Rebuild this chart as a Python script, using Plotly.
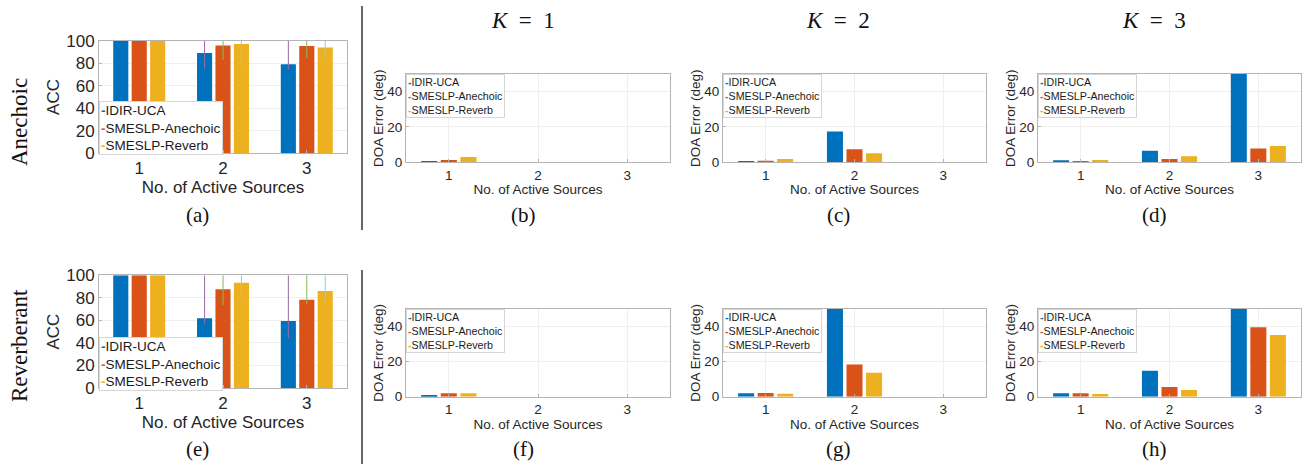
import plotly.graph_objects as go

# ---------------- data ----------------
methods = ["IDIR-UCA", "SMESLP-Anechoic", "SMESLP-Reverb"]
sources = [1, 2, 3]
source_labels = ["1", "2", "3"]
acc_ticks = [0, 20, 40, 60, 80, 100]
doa_ticks = [0, 20, 40]

# ACC, anechoic (a)
acc_an_idir = [100, 89.3, 79.3]
acc_an_sma = [100, 95.9, 95.6]
acc_an_smr = [100, 97.3, 94.1]
acc_an_idir_minus = [0, 13.9, 4.7]
acc_an_sma_minus = [0, 12.5, 11.0]
acc_an_smr_minus = [0, 20.0, 10.7]
acc_an_idir_plus = [0, 10.7, 20.7]
acc_an_sma_plus = [0, 4.1, 4.4]
acc_an_smr_plus = [0, 2.7, 5.9]

# ACC, reverberant (e)
acc_rv_idir = [100, 61.8, 59.5]
acc_rv_sma = [100, 87.6, 78.4]
acc_rv_smr = [100, 93.5, 86.1]
acc_rv_idir_minus = [0, 4.4, 15.5]
acc_rv_sma_minus = [0, 13.9, 4.1]
acc_rv_smr_minus = [0, 13.9, 9.5]
acc_rv_idir_plus = [0, 38.2, 40.5]
acc_rv_sma_plus = [0, 12.4, 21.6]
acc_rv_smr_plus = [0, 6.5, 13.9]

# DOA error, anechoic (b, c, d)
doa_an_k1_idir = [0.4, 0, 0]
doa_an_k1_sma = [1.3, 0, 0]
doa_an_k1_smr = [3.0, 0, 0]
doa_an_k2_idir = [0.3, 17.5, 0]
doa_an_k2_sma = [0.9, 7.4, 0]
doa_an_k2_smr = [1.9, 5.1, 0]
doa_an_k3_idir = [1.1, 6.5, 62.0]
doa_an_k3_sma = [0.8, 1.9, 7.8]
doa_an_k3_smr = [1.3, 3.4, 9.3]

# DOA error, reverberant (f, g, h)
doa_rv_k1_idir = [0.8, 0, 0]
doa_rv_k1_sma = [1.9, 0, 0]
doa_rv_k1_smr = [1.9, 0, 0]
doa_rv_k2_idir = [1.9, 58.0, 0]
doa_rv_k2_sma = [2.1, 18.3, 0]
doa_rv_k2_smr = [1.7, 13.6, 0]
doa_rv_k3_idir = [1.9, 14.8, 70.0]
doa_rv_k3_sma = [1.9, 5.6, 39.6]
doa_rv_k3_smr = [1.5, 3.8, 35.2]

col_headers = ["K", "K", "K"]
col_k = ["1", "2", "3"]
row_labels = ["Anechoic", "Reverberant"]
captions = ["(a)", "(b)", "(c)", "(d)", "(e)", "(f)", "(g)", "(h)"]

# ---------------- styling / layout ----------------
W, H = 1307, 464
colors = ["#0072BD", "#D95319", "#EDB120"]
err_colors = ["#9b6aa6", "#8fbb5a", "#7fd0f0"]
SANS = "Liberation Sans, Arial, Helvetica, sans-serif"
SERIF = "Liberation Serif, Times New Roman, serif"
TXT = "#262626"
LINE = "#b4b4b4"
GRID = "#efefef"


def fx(px):
    return px / W


def fy(py):
    return 1 - py / H


panels = [
    dict(box=(99, 347, 41, 153), kind="acc",
         vals=[acc_an_idir, acc_an_sma, acc_an_smr],
         plus=[acc_an_idir_plus, acc_an_sma_plus, acc_an_smr_plus],
         minus=[acc_an_idir_minus, acc_an_sma_minus, acc_an_smr_minus],
         leg=(99, 101)),
    dict(box=(406, 670, 74, 162.3), kind="doa",
         vals=[doa_an_k1_idir, doa_an_k1_sma, doa_an_k1_smr], leg=(406, 74)),
    dict(box=(723, 986, 74, 162.3), kind="doa",
         vals=[doa_an_k2_idir, doa_an_k2_sma, doa_an_k2_smr], leg=(723, 74)),
    dict(box=(1038, 1301, 74, 162.3), kind="doa",
         vals=[doa_an_k3_idir, doa_an_k3_sma, doa_an_k3_smr], leg=(1038, 74)),
    dict(box=(99, 347, 275.3, 388), kind="acc",
         vals=[acc_rv_idir, acc_rv_sma, acc_rv_smr],
         plus=[acc_rv_idir_plus, acc_rv_sma_plus, acc_rv_smr_plus],
         minus=[acc_rv_idir_minus, acc_rv_sma_minus, acc_rv_smr_minus],
         leg=(99, 337)),
    dict(box=(406, 670, 309, 396.7), kind="doa",
         vals=[doa_rv_k1_idir, doa_rv_k1_sma, doa_rv_k1_smr], leg=(406, 309)),
    dict(box=(723, 986, 309, 396.7), kind="doa",
         vals=[doa_rv_k2_idir, doa_rv_k2_sma, doa_rv_k2_smr], leg=(723, 309)),
    dict(box=(1038, 1301, 309, 396.7), kind="doa",
         vals=[doa_rv_k3_idir, doa_rv_k3_sma, doa_rv_k3_smr], leg=(1038, 309)),
]

fig = go.Figure()
layout = dict(
    width=W, height=H,
    margin=dict(l=0, r=0, t=0, b=0),
    paper_bgcolor="white", plot_bgcolor="white",
    barmode="group", bargap=0.34, bargroupgap=0.18,
    showlegend=False,
)
annotations = []
shapes = []

for i, p in enumerate(panels, start=1):
    x0, x1, y0, y1 = p["box"]
    acc = p["kind"] == "acc"
    fs = 17 if acc else 13.5
    for j, m in enumerate(methods):
        kw = {}
        if acc:
            kw["error_y"] = dict(type="data", symmetric=False,
                                 array=p["plus"][j], arrayminus=p["minus"][j],
                                 color=err_colors[j], thickness=1, width=0)
        fig.add_trace(go.Bar(
            x=sources, y=p["vals"][j], name=m,
            marker=dict(color=colors[j], line=dict(width=0)),
            xaxis=f"x{i}", yaxis=f"y{i}", showlegend=False,
            hoverinfo="x+y+name", **kw))
    layout[f"xaxis{i}"] = dict(
        domain=[fx(x0), fx(x1)], anchor=f"y{i}", range=[0.52, 3.48],
        tickvals=sources, ticktext=source_labels,
        showline=True, mirror=True, linecolor=LINE, linewidth=1,
        ticks="inside", ticklen=3, tickcolor=LINE,
        showgrid=True, gridcolor=GRID, zeroline=False,
        tickfont=dict(family=SANS, size=fs, color=TXT),
        title=dict(text="No. of Active Sources",
                   font=dict(family=SANS, size=fs, color=TXT), standoff=3),
        automargin=False, fixedrange=True)
    layout[f"yaxis{i}"] = dict(
        domain=[fy(y1), fy(y0)], anchor=f"x{i}",
        range=[0, 100] if acc else [0, 50],
        tickvals=acc_ticks if acc else doa_ticks,
        showline=True, mirror=True, linecolor=LINE, linewidth=1,
        ticks="inside", ticklen=3, tickcolor=LINE,
        showgrid=True, gridcolor=GRID, zeroline=False,
        tickfont=dict(family=SANS, size=fs, color=TXT),
        title=dict(text="ACC" if acc else "DOA Error (deg)",
                   font=dict(family=SANS, size=fs, color=TXT),
                   standoff=2 if acc else 0),
        automargin=False, fixedrange=True)

    # in-axes legend box
    lfs = 13.5 if acc else 10.7
    text = "<br>".join(
        f"<span style='color:{c}'><b>-</b></span>{m}" for c, m in zip(colors, methods))
    annotations.append(dict(
        xref="paper", yref="paper", x=fx(p["leg"][0]), y=fy(p["leg"][1]),
        xanchor="left", yanchor="top", align="left", showarrow=False,
        text=text, font=dict(family=SANS, size=lfs, color="#1a1a1a"),
        bgcolor="white", bordercolor="#d6d6d6", borderwidth=1, borderpad=1))

# column headers
for cx, h, k in zip([523, 838, 1154], col_headers, col_k):
    annotations.append(dict(
        xref="paper", yref="paper", x=fx(cx), y=fy(20),
        xanchor="center", yanchor="middle", showarrow=False,
        text=f"<i>{h}</i>\u2002=\u2002{k}",
        font=dict(family=SERIF, size=23, color="#111111")))

# row labels
for cy, lab in zip([122, 346], row_labels):
    annotations.append(dict(
        xref="paper", yref="paper", x=fx(19), y=fy(cy),
        xanchor="center", yanchor="middle", showarrow=False, textangle=-90,
        text=lab, font=dict(family=SERIF, size=23, color="#111111")))

# captions
cap_x = [197, 523, 838, 1154]
for n, cap in enumerate(captions):
    annotations.append(dict(
        xref="paper", yref="paper", x=fx(cap_x[n % 4]),
        y=fy(215 if n < 4 else 449),
        xanchor="center", yanchor="middle", showarrow=False,
        text=cap, font=dict(family=SERIF, size=21, color="#111111")))

# vertical separator
for ya, yb in [(6, 230), (270, 464)]:
    shapes.append(dict(type="line", xref="paper", yref="paper",
                       x0=fx(362), x1=fx(362), y0=fy(ya), y1=fy(yb),
                       line=dict(color="#333333", width=1.5)))

layout["annotations"] = annotations
layout["shapes"] = shapes
fig.update_layout(**layout)
fig.write_html(
    "out.html",
    config={"displayModeBar": False},
    post_script="document.body.style.margin='0';document.body.style.overflow='hidden';")
